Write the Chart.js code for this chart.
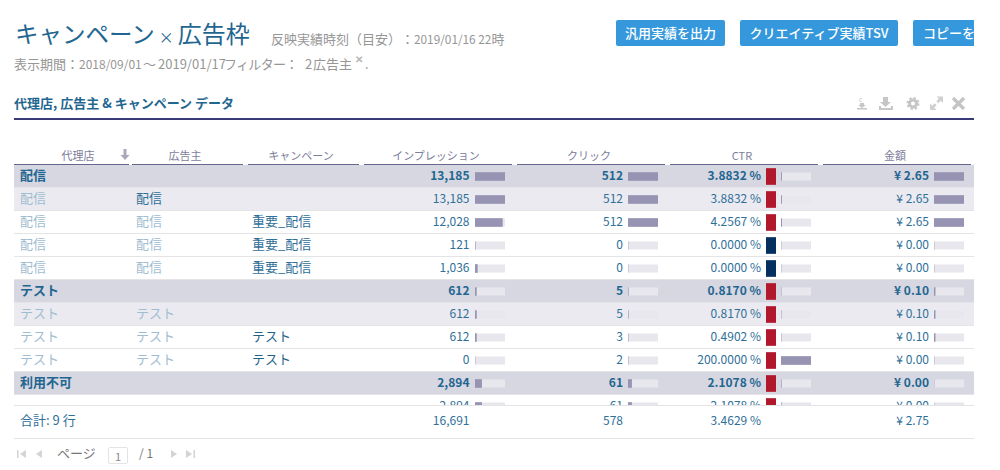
<!DOCTYPE html>
<html lang="ja">
<head>
<meta charset="utf-8">
<title>キャンペーン×広告枠</title>
<script src="https://cdn.jsdelivr.net/npm/chart.js@4"></script>
<style>
  html, body { margin: 0; padding: 0; width: 1000px; height: 470px; overflow: hidden; background: #fff; }
  body { font-family: "Noto Sans CJK JP", "Noto Sans", sans-serif; color: #1f6690; position: relative; text-spacing-trim: space-all; }
  .t { position: absolute; white-space: nowrap; }
  .sm { font-size: 12px; }
  .btn { position: absolute; top: 20px; height: 26px; line-height: 25px; background: #3598dc; color: #fff; border-radius: 2px; font-size: 13px; font-weight: 500; text-align: center; overflow: hidden; white-space: nowrap; }
  .head { position: absolute; top: 146px; font-size: 11px; line-height: 18px; color: #7d7d9c; text-align: center; height: 18px; border-bottom: 1px solid #66678f; }
  #tableBody { position: absolute; left: 14px; top: 165px; width: 960px; height: 240px; overflow: hidden; }
  .row { position: absolute; left: 0; width: 960px; height: 23px; box-sizing: border-box; font-size: 13px; line-height: 19px; border-bottom: 1px solid #e4e4e4; color: #2f7099; }
  .row.group { background: #d7d7e2; font-weight: 700; border-bottom-color: #e4e4ea; color: #1f6690; }
  .row.sub { background: #ebeaf0; }
  .row span { position: absolute; white-space: nowrap; }
  .row span.num { font-size: 12px; }
  .light { color: #9fbdd1; }
  .mid { color: #2f7099; }
  .dark { color: #1f6488; }
  #tableBody canvas { position: absolute; top: 0; }
  .rule { position: absolute; left: 14px; width: 960px; height: 1px; background: #e4e4e4; }
  svg { position: absolute; overflow: visible; }
  .grey { color: #969696; font-size: 13px; line-height: 20px; }
</style>
</head>
<body>
<div class="t" style="left:15px;top:15px;font-size:23.500px;line-height:36px;color:#1f6690">キャンペーン<span style="display:inline-block;width:23px;text-align:center;font-size:15px">×</span><span style="font-size:24px">広告枠</span></div>
<div class="t grey" style="left:271px;top:29px">反映実績時刻（目安）：<span style="font-size:11.800px">2019/01/16 22</span>時</div>
<div class="t grey" style="left:14px;top:54px">表示期間：<span class="sm">2018/09/01</span></div>
<div class="t grey" style="left:143px;top:54px">〜</div>
<div class="t grey sm" style="left:158px;top:54px">2019/01/17</div>
<div class="t grey" style="left:224px;top:54px;letter-spacing:-0.700px">フィルター：</div>
<div class="t grey sm" style="left:305px;top:54px">2</div>
<div class="t grey" style="left:313px;top:54px">広告主</div>
<div class="t" style="left:355px;top:51px;font-size:10px;line-height:16px;font-weight:700;color:#b5b5b5">✕</div>
<div class="t grey sm" style="left:365px;top:54px">.</div>
<div class="btn" style="left:616px;width:109px">汎用実績を出力</div>
<div class="btn" style="left:740px;width:158px">クリエイティブ実績TSV</div>
<div class="btn" style="left:913px;width:61px;text-align:left;padding-left:10px;box-sizing:border-box;border-radius:2px 0 0 2px">コピーを保存</div>
<div class="t" style="left:14px;top:93px;font-size:13px;line-height:20px;font-weight:700;color:#1f6690">代理店, 広告主 &amp; キャンペーン データ</div>
<div style="position:absolute;left:14px;top:118px;width:960px;height:2px;background:#3a3a78"></div>

<svg style="left:0;top:0" width="1000" height="470">
  <g fill="#c6c6c6">
    <text x="859" y="102" font-size="7" font-family="Noto Sans">c</text>
    <path d="M860 103h4v2h2l-4 3-4-3h2zM857 108h10v1.500h-10z" />
    <path d="M883 97h5v5h3l-5.500 5-5.500-5h3zM879 106h2v2h10v-2h2v4h-14z" />
  </g>
  <circle cx="913" cy="103.500" r="3.500" fill="none" stroke="#c6c6c6" stroke-width="3" />
  <circle cx="913" cy="103.500" r="5.500" fill="none" stroke="#c6c6c6" stroke-width="2" stroke-dasharray="2.300 2" />
  <g fill="#cfcfcf">
    <path d="M930 110v-6.500l2.200 2.200 2.500-2.500 2 2-2.500 2.500 2.300 2.300zM943 96.500v6.500l-2.200-2.200-2.500 2.500-2-2 2.500-2.500-2.300-2.300z" />
  </g>
  <path d="M953 98l11 11M964 98l-11 11" stroke="#c4c4c4" stroke-width="3.200" />
  <path d="M123.500 149h3v6h3l-4.500 5-4.500-5h3z" fill="#a9a9b8" />
  <g fill="#d4d4d4">
    <path d="M17 450h1.500v8h-1.500zM26 450v8l-6-4zM42 450v8l-6-4zM171 450l6 4-6 4zM186 450l6 4-6 4zM193.500 450h1.500v8h-1.500z" />
  </g>
</svg>

<div id="tableHead"></div>
<div id="tableBody"></div>
<div class="rule" style="top:405px"></div>
<div class="rule" style="top:438px"></div>
<div id="totals"></div>
<div class="t" style="left:57px;top:443px;font-size:13px;line-height:20px;color:#777">ページ</div>
<div class="t" style="left:108px;top:447px;width:18px;height:15px;border:1px solid #e4e4e4;border-radius:2px;font-size:11px;line-height:16px;text-align:center;color:#888">1</div>
<div class="t" style="left:139px;top:443px;font-size:12px;line-height:20px;color:#777">/ 1</div>

<script>
const headers = ["代理店", "広告主", "キャンペーン", "インプレッション", "クリック", "CTR", "金額"];
const rowKinds = ["group", "sub", "leaf", "leaf", "leaf", "group", "sub", "leaf", "leaf", "group", "leaf"];
const agencies = ["配信", "配信", "配信", "配信", "配信", "テスト", "テスト", "テスト", "テスト", "利用不可", ""];
const advertisers = ["", "配信", "配信", "配信", "配信", "", "テスト", "テスト", "テスト", "", ""];
const campaigns = ["", "", "重要_配信", "重要_配信", "重要_配信", "", "", "テスト", "テスト", "", ""];
const impressions = [13185, 13185, 12028, 121, 1036, 612, 612, 612, 0, 2894, 2894];
const clicks = [512, 512, 512, 0, 0, 5, 5, 3, 2, 61, 61];
const ctrs = [3.8832, 3.8832, 4.2567, 0, 0, 0.8170, 0.8170, 0.4902, 200, 2.1078, 2.1078];
const ctrMarks = [1, 1, 1, 1, 1, 1, 1, 1, 1, 1, 1];
const spends = [2.65, 2.65, 2.65, 0, 0, 0.10, 0.10, 0.10, 0, 0, 0];
const totalRowLabel = "合計: 9 行";
const totalLabels = ["16,691", "578", "3.4629 %", "¥ 2.75"];

const headBoxes = [[14, 115], [132, 111], [248, 111], [364, 148], [517, 148], [670, 148], [823, 148]];
const headCenters = [78, 185, 301, 436, 589, 742, 895];
const numRight = [469.5, 623, 761, 929];
const barColor = "#9693b3";
const trackColor = "#e8e7ee";
const rowH = 23;

const tableHead = document.querySelector("#tableHead");
headers.forEach((h, i) => {
  const box = document.createElement("div");
  box.className = "head";
  box.style.left = headBoxes[i][0] + "px";
  box.style.width = headBoxes[i][1] + "px";
  const s = document.createElement("span");
  s.className = "t";
  s.style.left = headCenters[i] - headBoxes[i][0] + "px";
  s.style.transform = "translateX(-50%)";
  s.textContent = h;
  box.appendChild(s);
  tableHead.appendChild(box);
});

const tableBody = document.querySelector("#tableBody");
function addCell(row, text, x, right, cls) {
  const s = document.createElement("span");
  if (right) s.style.right = 960 - (x - 14) + "px";
  else s.style.left = x - 14 + "px";
  if (cls) s.className = cls;
  s.textContent = text;
  row.appendChild(s);
}
rowKinds.forEach((kind, i) => {
  const row = document.createElement("div");
  row.className = "row " + kind;
  row.style.top = i * rowH + "px";
  const isGroup = kind === "group";
  addCell(row, agencies[i], 20, false, isGroup ? "" : "light");
  if (advertisers[i]) addCell(row, advertisers[i], 136, false, kind === "sub" && i === 1 ? "mid" : "light");
  if (campaigns[i]) addCell(row, campaigns[i], 252, false, campaigns[i] === "テスト" ? "dark" : "mid");
  addCell(row, impressions[i].toLocaleString("en-US"), numRight[0], true, "num");
  addCell(row, clicks[i].toLocaleString("en-US"), numRight[1], true, "num");
  addCell(row, ctrs[i].toFixed(4) + " %", numRight[2], true, "num");
  addCell(row, "¥ " + spends[i].toFixed(2), numRight[3], true, "num");
  tableBody.appendChild(row);
});

const totals = document.querySelector("#totals");
function addTotal(text, css) {
  const s = document.createElement("div");
  s.className = "t";
  s.style.cssText = "top:411px;font-size:12px;line-height:18px;color:#2f7099;" + css;
  s.textContent = text;
  totals.appendChild(s);
}
addTotal(totalRowLabel, "left:20px;font-size:13px");
totalLabels.forEach((t, i) => addTotal(t, "right:" + (1000 - numRight[i]) + "px"));

// grey track behind every bar, spanning the full x scale of its chart
const trackPlugin = {
  id: "track",
  beforeDatasetsDraw(chart) {
    const { ctx, chartArea } = chart;
    ctx.save();
    ctx.fillStyle = trackColor;
    chart.getDatasetMeta(0).data.forEach((bar) => {
      ctx.fillRect(chartArea.left, bar.y - 4, chartArea.right - chartArea.left, 8);
    });
    ctx.restore();
  },
};

function miniBars(values, left, width, xMax, thickness, color, plugins) {
  const canvas = document.createElement("canvas");
  canvas.width = width;
  canvas.height = rowKinds.length * rowH;
  canvas.style.left = left - 14 + "px";
  canvas.style.zIndex = 2;
  tableBody.appendChild(canvas);
  return new Chart(canvas, {
    type: "bar",
    data: {
      labels: agencies,
      datasets: [{ data: values, backgroundColor: color, barThickness: thickness, borderWidth: 0 }],
    },
    options: {
      indexAxis: "y",
      responsive: false,
      animation: false,
      layout: { padding: 0 },
      plugins: { legend: { display: false }, tooltip: { enabled: false } },
      scales: {
        x: { display: false, min: 0, max: xMax },
        y: { display: false },
      },
    },
    plugins: plugins,
  });
}

miniBars(impressions, 475, 30, 13185, 8, barColor, [trackPlugin]);
miniBars(clicks, 628, 30, 512, 8, barColor, [trackPlugin]);
miniBars(ctrMarks, 766, 10, 1, 16, (c) => (ctrs[c.dataIndex] > 0 ? "#b1182b" : "#03305f"), []);
miniBars(ctrs, 781, 30, 200, 8, barColor, [trackPlugin]);
miniBars(spends, 934, 30, 2.65, 8, barColor, [trackPlugin]);
</script>
</body>
</html>
